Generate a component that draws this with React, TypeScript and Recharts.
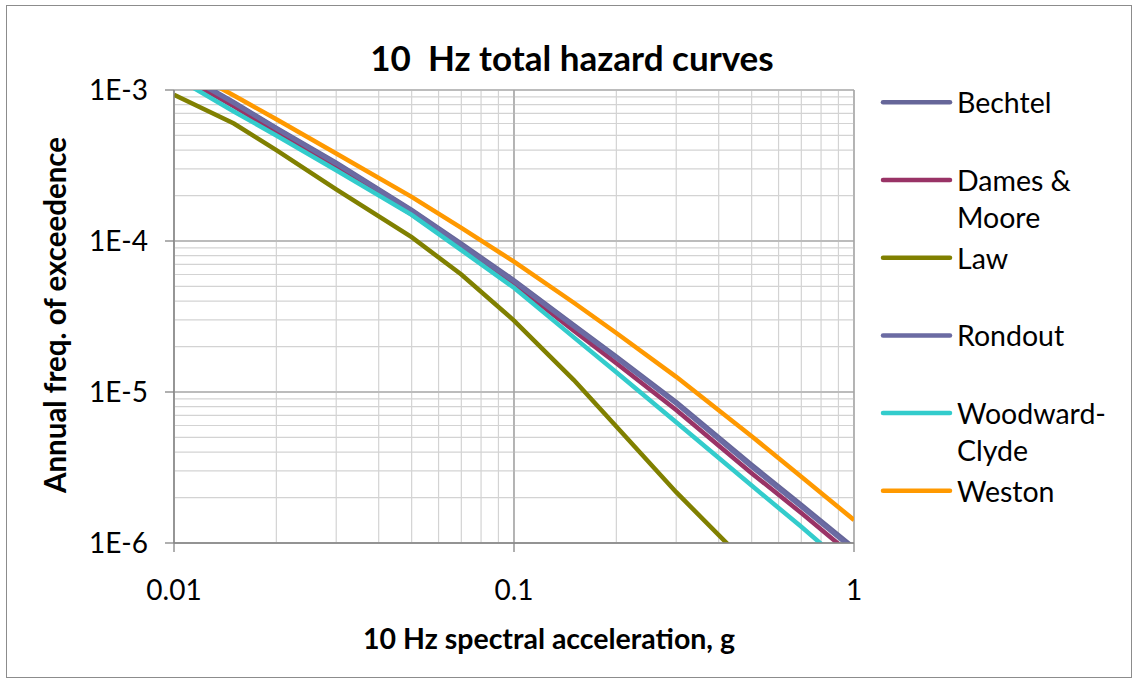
import React from 'react';
import { LineChart, Line, XAxis, YAxis, CartesianGrid, ReferenceLine } from 'recharts';

// spectral acceleration (g)
const accel = [0.01, 0.015, 0.02, 0.03, 0.05, 0.07, 0.1, 0.15, 0.2, 0.3, 0.5, 0.7, 1.0];

// annual frequency of exceedence per study
const bechtel = [1.4e-3, 8.3e-4, 5.6e-4, 3.3e-4, 1.61e-4, 9.6e-5, 5.5e-5, 2.78e-5, 1.72e-5, 8.6e-6, 3.3e-6, 1.79e-6, 9.3e-7];
const damesMoore = [1.3e-3, 7.8e-4, 5.25e-4, 3.05e-4, 1.5e-4, 8.9e-5, 5.2e-5, 2.55e-5, 1.55e-5, 7.6e-6, 2.9e-6, 1.58e-6, 8.1e-7];
const law = [9.3e-4, 6.0e-4, 4.0e-4, 2.2e-4, 1.06e-4, 6.0e-5, 2.97e-5, 1.2e-5, 5.9e-6, 2.17e-6, 6.8e-7, 3.1e-7, 1.4e-7];
const rondout = [1.38e-3, 8.2e-4, 5.55e-4, 3.25e-4, 1.59e-4, 9.4e-5, 5.4e-5, 2.72e-5, 1.68e-5, 8.4e-6, 3.2e-6, 1.74e-6, 9.0e-7];
const woodwardClyde = [1.23e-3, 7.2e-4, 5.0e-4, 2.94e-4, 1.49e-4, 8.7e-5, 4.9e-5, 2.3e-5, 1.35e-5, 6.3e-6, 2.4e-6, 1.28e-6, 6.4e-7];
const weston = [1.51e-3, 9.2e-4, 6.4e-4, 3.8e-4, 1.96e-4, 1.22e-4, 7.3e-5, 3.9e-5, 2.46e-5, 1.26e-5, 5.1e-6, 2.75e-6, 1.42e-6];

const xTicks = [0.01, 0.1, 1];
const yTicks = [1e-6, 1e-5, 1e-4, 1e-3];
const minorSteps = [2, 3, 4, 5, 6, 7, 8, 9];

const series = [
  { key: 'bechtel', name: 'Bechtel', lines: ['Bechtel'], values: bechtel, color: '#666699' },
  { key: 'damesMoore', name: 'Dames & Moore', lines: ['Dames &', 'Moore'], values: damesMoore, color: '#993366' },
  { key: 'law', name: 'Law', lines: ['Law'], values: law, color: '#808000' },
  { key: 'rondout', name: 'Rondout', lines: ['Rondout'], values: rondout, color: '#6b6ba3' },
  { key: 'woodwardClyde', name: 'Woodward-Clyde', lines: ['Woodward-', 'Clyde'], values: woodwardClyde, color: '#33cccc' },
  { key: 'weston', name: 'Weston', lines: ['Weston'], values: weston, color: '#ff9900' },
];

const data = accel.map((x, i) => {
  const row: any = { x };
  series.forEach((s) => { row[s.key] = s.values[i]; });
  return row;
});

const xMinor = xTicks.slice(0, -1).flatMap((d) => minorSteps.map((m) => d * m));
const yMinor = yTicks.slice(0, -1).flatMap((d) => minorSteps.map((m) => d * m));

const FONT = 'Lato, "Open Sans", sans-serif';
const AXIS = '#868686';

export default function App() {
  return (
    <div style={{ position: 'absolute', left: 0, top: 0, width: 1134, height: 681, background: '#fff', fontFamily: FONT }}>
      <div style={{ position: 'absolute', left: 6, top: 5, width: 1124, height: 671, border: '1px solid #8c8c8c' }} />
      <LineChart
        width={1134}
        height={681}
        data={data}
        margin={{ top: 90, right: 280, left: 74, bottom: 78 }}
        style={{ position: 'absolute', left: 0, top: 0 }}
      >
        <CartesianGrid stroke="#a6a6a6" strokeWidth={1.2} />
        {xMinor.map((v) => (
          <ReferenceLine key={`xm-${v}`} x={v} stroke="#d3d3d3" strokeWidth={1.2} />
        ))}
        {yMinor.map((v) => (
          <ReferenceLine key={`ym-${v}`} y={v} stroke="#d3d3d3" strokeWidth={1.2} />
        ))}
        {xTicks.map((v) => (
          <ReferenceLine key={`xM-${v}`} x={v} stroke="#a6a6a6" strokeWidth={1.2} />
        ))}
        {yTicks.map((v) => (
          <ReferenceLine key={`yM-${v}`} y={v} stroke="#a6a6a6" strokeWidth={1.2} />
        ))}
        <XAxis
          dataKey="x"
          type="number"
          scale="log"
          domain={[0.01, 1]}
          ticks={xTicks}
          allowDataOverflow
          height={60}
          tickSize={9}
          tickMargin={28}
          axisLine={{ stroke: AXIS, strokeWidth: 1.3 }}
          tickLine={{ stroke: AXIS, strokeWidth: 1.3 }}
          tick={{ fontSize: 28, fill: '#000', fontFamily: FONT }}
          tickFormatter={(v) => String(v)}
        />
        <YAxis
          type="number"
          scale="log"
          domain={[1e-6, 1e-3]}
          ticks={yTicks}
          allowDataOverflow
          width={100}
          tickSize={9}
          tickMargin={17}
          axisLine={{ stroke: AXIS, strokeWidth: 1.3 }}
          tickLine={{ stroke: AXIS, strokeWidth: 1.3 }}
          tick={{ fontSize: 28, fill: '#000', fontFamily: FONT }}
          tickFormatter={(v) => `1E${Math.round(Math.log10(v))}`}
        />
        {series.map((s) => (
          <Line
            key={s.key}
            dataKey={s.key}
            name={s.name}
            type="linear"
            stroke={s.color}
            strokeWidth={4.5}
            dot={false}
            isAnimationActive={false}
          />
        ))}
      </LineChart>
      <svg width={1134} height={681} style={{ position: 'absolute', left: 0, top: 0, pointerEvents: 'none' }}>
        <text
          x={572}
          y={71}
          textAnchor="middle"
          fontFamily={FONT}
          fontWeight={700}
          fontSize={35}
          fill="#000"
          style={{ whiteSpace: 'pre' }}
        >
          {'10  Hz total hazard curves'}
        </text>
        <text x={549} y={649} textAnchor="middle" fontFamily={FONT} fontWeight={700} fontSize={28.5} fill="#000">
          10 Hz spectral acceleration, g
        </text>
        <text
          x={0}
          y={0}
          transform="translate(66 315) rotate(-90)"
          textAnchor="middle"
          fontFamily={FONT}
          fontWeight={700}
          fontSize={29.5}
          fill="#000"
        >
          Annual freq. of exceedence
        </text>
        {series.map((s, i) => {
          const cy = 102.3 + i * 77.7;
          return (
            <g key={s.key}>
              <line x1={883} x2={950} y1={cy} y2={cy} stroke={s.color} strokeWidth={4.5} strokeLinecap="round" />
              <text x={957} y={cy + 11} fontFamily={FONT} fontSize={28.5} fill="#000">
                {s.lines.map((ln, j) => (
                  <tspan key={j} x={957} dy={j === 0 ? 0 : 37}>{ln}</tspan>
                ))}
              </text>
            </g>
          );
        })}
      </svg>
    </div>
  );
}
